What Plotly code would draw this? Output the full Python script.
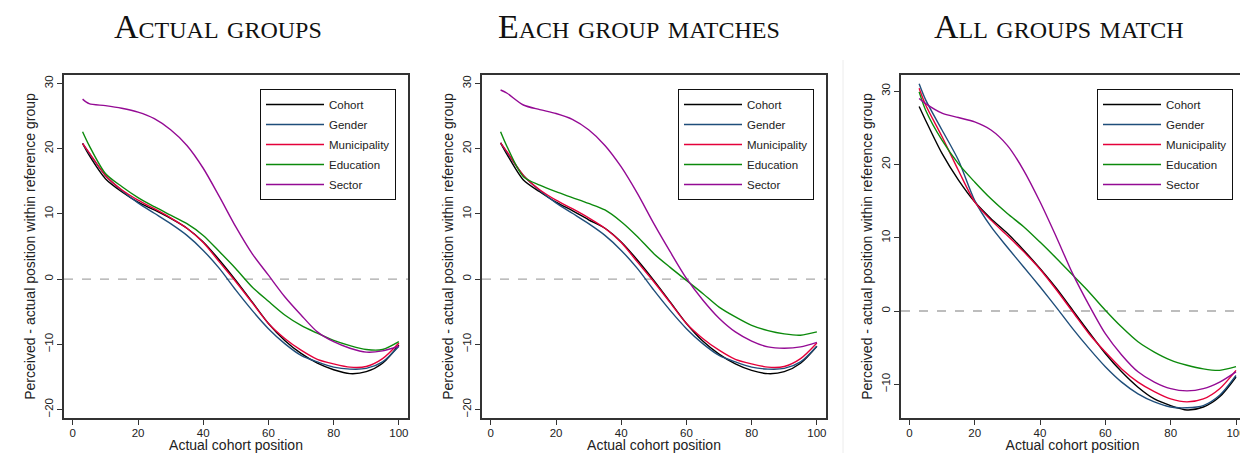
import plotly.graph_objects as go

series_names = ["Cohort", "Gender", "Municipality", "Education", "Sector"]
series_colors = ["#000000", "#1f4e7a", "#e4003a", "#0c8a0c", "#940a94"]

x_pos = [3, 5, 10, 15, 20, 25, 30, 35, 40, 45, 50, 55, 60, 65, 70, 75, 80, 85, 90, 95, 100]

# Panel 1: Actual groups
p1_cohort = [20.8, 19.0, 15.4, 13.4, 11.8, 10.6, 9.3, 7.8, 5.7, 2.9, -0.2, -3.5, -6.8, -9.4, -11.4, -12.9, -13.9, -14.5, -14.2, -12.9, -10.1]
p1_gender = [20.8, 19.3, 15.9, 13.6, 11.7, 10.1, 8.5, 6.7, 4.4, 1.6, -1.7, -4.8, -7.6, -9.9, -11.7, -12.7, -13.5, -13.8, -13.7, -12.7, -10.3]
p1_munic = [20.8, 19.4, 15.9, 13.7, 12.1, 10.8, 9.4, 7.8, 5.6, 2.6, -0.4, -3.6, -6.8, -9.1, -10.9, -12.3, -13.0, -13.5, -13.4, -12.2, -9.8]
p1_educ = [22.6, 20.5, 16.2, 14.2, 12.5, 11.1, 9.8, 8.5, 6.7, 4.2, 1.6, -1.2, -3.4, -5.5, -7.1, -8.3, -9.4, -10.2, -10.8, -10.8, -9.6]
p1_sector = [27.6, 26.9, 26.6, 26.2, 25.6, 24.6, 22.9, 20.5, 17.0, 12.6, 8.0, 3.9, 0.6, -2.7, -5.5, -8.1, -9.6, -10.6, -11.2, -11.0, -10.3]

# Panel 2: Each group matches
p2_cohort = [20.9, 19.1, 15.2, 13.4, 11.8, 10.5, 9.1, 7.8, 5.7, 2.9, -0.2, -3.5, -6.8, -9.5, -11.5, -13.0, -14.0, -14.5, -14.2, -12.9, -10.3]
p2_gender = [20.9, 19.4, 15.9, 13.6, 11.7, 10.1, 8.5, 6.7, 4.4, 1.6, -1.7, -4.8, -7.6, -9.9, -11.7, -12.7, -13.5, -13.8, -13.7, -12.7, -10.3]
p2_munic = [20.9, 19.5, 15.9, 13.7, 12.1, 10.8, 9.4, 7.8, 5.6, 2.6, -0.4, -3.6, -6.8, -9.1, -10.9, -12.3, -13.0, -13.5, -13.4, -12.2, -9.8]
p2_educ = [22.6, 20.3, 15.7, 14.4, 13.4, 12.5, 11.6, 10.6, 8.8, 6.5, 3.9, 1.8, -0.2, -2.2, -4.3, -5.8, -7.1, -7.9, -8.4, -8.6, -8.1]
p2_sector = [29.0, 28.5, 26.7, 26.0, 25.4, 24.5, 22.9, 20.5, 17.2, 13.1, 8.5, 4.2, 0.1, -3.2, -6.0, -8.1, -9.5, -10.4, -10.6, -10.4, -9.7]

# Panel 3: All groups match
p3_cohort = [27.9, 26.0, 21.5, 17.9, 14.9, 12.6, 10.6, 8.3, 5.8, 3.1, 0.1, -2.9, -5.8, -8.3, -10.4, -12.0, -12.9, -13.5, -13.1, -11.7, -9.0]
p3_gender = [31.0, 28.8, 24.7, 20.6, 15.1, 11.5, 8.7, 6.0, 3.3, 0.5, -2.4, -5.1, -7.6, -9.7, -11.3, -12.4, -13.1, -13.2, -12.9, -11.5, -8.8]
p3_munic = [30.4, 28.1, 23.8, 19.2, 14.9, 12.4, 10.3, 8.1, 5.7, 2.9, -0.1, -3.1, -5.6, -7.9, -9.7, -11.0, -12.0, -12.4, -12.0, -10.6, -8.1]
p3_educ = [29.9, 27.4, 23.3, 20.1, 17.6, 15.3, 13.3, 11.5, 9.4, 7.2, 4.9, 2.6, 0.1, -2.2, -4.2, -5.6, -6.7, -7.4, -7.9, -8.1, -7.6]
p3_sector = [29.0, 28.3, 27.0, 26.4, 25.8, 24.7, 22.6, 19.2, 14.9, 10.1, 5.1, 0.8, -3.1, -6.0, -8.3, -9.7, -10.6, -10.9, -10.6, -9.7, -8.3]

panel_titles = ["Actual groups", "Each group matches", "All groups match"]
panels = [
    [p1_cohort, p1_gender, p1_munic, p1_educ, p1_sector],
    [p2_cohort, p2_gender, p2_munic, p2_educ, p2_sector],
    [p3_cohort, p3_gender, p3_munic, p3_educ, p3_sector],
]
x_ticks = [0, 20, 40, 60, 80, 100]
y_ticks = [[-20, -10, 0, 10, 20, 30], [-20, -10, 0, 10, 20, 30], [-10, 0, 10, 20, 30]]
y_ranges = [[-21.3, 31.3], [-21.3, 31.3], [-14.6, 32.2]]
x_ranges = [[-2.7, 102.8], [-2.7, 102.8], [-2.55, 102.45]]

# the page body has an 8px margin: figure drawn at (8, 8) in the 1248x453 window
OFF = 8
W, H = 1248 - OFF, 453 - OFF
px_x = [(64, 408), (482, 826), (901, 1244)]   # window pixels
px_y = (75, 418)
title_centers = [218, 639, 1059]


def fx(px):
    return (px - OFF) / W


def fy(py):
    return 1 - (py - OFF) / H


fig = go.Figure()
sans = "Liberation Sans, Arial, sans-serif"
tick_font = dict(family=sans, size=11.5, color="#222")
title_font = dict(family=sans, size=14, color="#222")
legend_names = ["legend", "legend2", "legend3"]

for i, data in enumerate(panels):
    sfx = "" if i == 0 else str(i + 1)
    for name, color, ys in zip(series_names, series_colors, data):
        fig.add_trace(go.Scatter(
            x=x_pos, y=ys, mode="lines", name=name,
            legendgroup=f"p{i}_{name}",
            line=dict(color=color, width=1.4, shape="spline", smoothing=0.8),
            xaxis="x" + sfx, yaxis="y" + sfx, legend=legend_names[i],
        ))
    x0, x1 = px_x[i]
    common = dict(showline=True, mirror=True, linecolor="#333", linewidth=1.5,
                  ticks="outside", ticklen=5, tickwidth=1, tickcolor="#333",
                  showgrid=False, zeroline=False, tickfont=tick_font, automargin=False)
    fig.layout["xaxis" + sfx] = dict(
        domain=[fx(x0), fx(x1)], anchor="y" + sfx, range=x_ranges[i],
        tickvals=x_ticks, ticklabelstandoff=-2,
        title=dict(text="Actual cohort position", font=title_font, standoff=2),
        **common)
    fig.layout["yaxis" + sfx] = dict(
        domain=[fy(px_y[1]), fy(px_y[0])], anchor="x" + sfx, range=y_ranges[i],
        tickvals=y_ticks[i], tickangle=-90,
        title=dict(text="Perceived - actual position within reference group",
                   font=title_font, standoff=4),
        **common)
    # zero reference line
    fig.add_shape(type="line", xref="x" + sfx + " domain", yref="y" + sfx,
                  x0=0, x1=1, y0=0, y1=0, line=dict(color="#a8a8a8", width=1.4, dash="dash"), layer="below")
    # legend
    fig.layout[legend_names[i]] = dict(
        x=fx(x0 + 196), y=fy(89), xanchor="left", yanchor="top",
        bgcolor="white", bordercolor="#111", borderwidth=1,
        font=dict(family=sans, size=11.5, color="#222"),
        itemwidth=58, tracegroupgap=1,
    )
    # panel title
    fig.add_annotation(text=panel_titles[i], xref="paper", yref="paper",
                       x=fx(title_centers[i]), y=fy(26), xanchor="center", yanchor="middle",
                       showarrow=False,
                       font=dict(family="Liberation Serif, DejaVu Serif, serif", size=34,
                                 color="#111", variant="small-caps"))

# faint separator line before third panel
fig.add_shape(type="line", xref="paper", yref="paper", x0=fx(843), x1=fx(843), y0=0, y1=fy(60),
              line=dict(color="#ececec", width=1))

fig.update_layout(width=W, height=H, autosize=False, margin=dict(l=0, r=0, t=0, b=0),
                  paper_bgcolor="white", plot_bgcolor="white", showlegend=True)

fig.write_html("out.html")
